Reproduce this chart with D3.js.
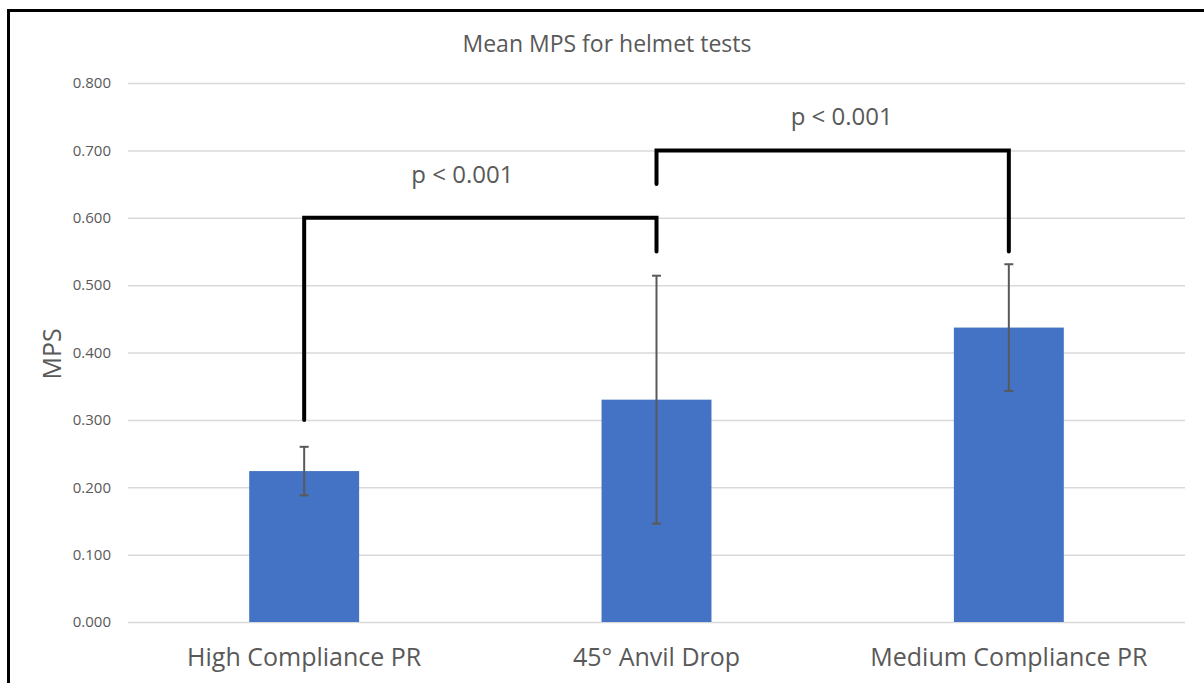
<!DOCTYPE html>
<html>
<head>
<meta charset="utf-8">
<script src="https://cdn.jsdelivr.net/npm/d3@7"></script>
<style>
  html, body { margin: 0; padding: 0; background: #fff; }
  svg { display: block; }
  svg text { font-family: "Open Sans", "Noto Sans", sans-serif; }
  .tick text { fill: #595959; }
</style>
</head>
<body>
<svg id="chart" width="1204" height="683"></svg>
<script>
// Mean MPS per test condition, with error bar half-widths
const categories = ['High Compliance PR', '45\u00b0 Anvil Drop', 'Medium Compliance PR'];
const meanMps = [0.224, 0.330, 0.437];
const errMps = [0.036, 0.184, 0.094];
const yTicks = [0, 0.1, 0.2, 0.3, 0.4, 0.5, 0.6, 0.7, 0.8];

// Significance brackets: from category, to category, leg ends and top
const bracketFrom = [0, 1];
const bracketTo = [1, 2];
const bracketLeftEnd = [0.30, 0.65];
const bracketRightEnd = [0.55, 0.55];
const bracketTop = [0.60, 0.70];
const bracketLabels = ['p < 0.001', 'p < 0.001'];

const svg = d3.select('#chart');
const grey = '#595959';

const x = d3.scaleBand()
  .domain(categories)
  .range([128, 1185])
  .paddingInner(0.688)
  .paddingOuter(0.344);

const y = d3.scaleLinear().domain([0, 0.8]).range([622, 83]);

// outer frame
svg.append('rect')
  .attr('x', 8.5).attr('y', 10.5)
  .attr('width', 1200).attr('height', 700)
  .attr('fill', 'none')
  .attr('stroke', '#000')
  .attr('stroke-width', 3);

svg.append('text')
  .attr('x', 607).attr('y', 52)
  .attr('text-anchor', 'middle')
  .attr('fill', grey)
  .style('font-size', '23px')
  .text('Mean MPS for helmet tests');

// y axis with gridlines
const yAxis = svg.append('g')
  .attr('transform', 'translate(128,0)')
  .call(d3.axisLeft(y).tickValues(yTicks).tickFormat(d3.format('.3f'))
    .tickSize(-1057).tickPadding(17));
yAxis.attr('font-family', null);
yAxis.select('.domain').remove();
yAxis.selectAll('.tick line').attr('stroke', '#d9d9d9').attr('stroke-width', 1.5);
yAxis.selectAll('.tick text').style('font-size', '15px');

svg.append('text')
  .attr('transform', 'translate(61,354) rotate(-90)')
  .attr('text-anchor', 'middle')
  .attr('fill', grey)
  .style('font-size', '25px')
  .text('MPS');

// x axis labels
const xAxis = svg.append('g')
  .attr('transform', 'translate(0,622)')
  .call(d3.axisBottom(x).tickSize(0).tickPadding(26));
xAxis.attr('font-family', null);
xAxis.select('.domain').remove();
xAxis.selectAll('.tick text').style('font-size', '25px');

// bars
svg.append('g').selectAll('rect')
  .data(categories)
  .join('rect')
  .attr('x', d => x(d))
  .attr('width', x.bandwidth())
  .attr('y', (d, i) => y(meanMps[i]))
  .attr('height', (d, i) => y(0) - y(meanMps[i]))
  .attr('fill', '#4472C4');

// error bars
const cx = i => x(categories[i]) + x.bandwidth() / 2;
const err = svg.append('g').attr('stroke', grey).attr('stroke-width', 2);
categories.forEach((c, i) => {
  const hi = y(meanMps[i] + errMps[i]);
  const lo = y(meanMps[i] - errMps[i]);
  err.append('line').attr('x1', cx(i)).attr('x2', cx(i)).attr('y1', hi).attr('y2', lo);
  err.append('line').attr('x1', cx(i) - 4.5).attr('x2', cx(i) + 4.5).attr('y1', hi).attr('y2', hi);
  err.append('line').attr('x1', cx(i) - 4.5).attr('x2', cx(i) + 4.5).attr('y1', lo).attr('y2', lo);
});

// significance brackets; labels sit a little off the bracket middle
const labelDx = [-18, 9];
const labelDy = [-35, -25];
const bg = svg.append('g');
bracketFrom.forEach((f, i) => {
  const x1 = cx(f), x2 = cx(bracketTo[i]);
  bg.append('path')
    .attr('d', d3.line()([
      [x1, y(bracketLeftEnd[i])],
      [x1, y(bracketTop[i])],
      [x2, y(bracketTop[i])],
      [x2, y(bracketRightEnd[i])]
    ]))
    .attr('fill', 'none')
    .attr('stroke', '#000')
    .attr('stroke-width', 4)
    .attr('stroke-linecap', 'round');
  bg.append('text')
    .attr('x', (x1 + x2) / 2 + labelDx[i])
    .attr('y', y(bracketTop[i]) + labelDy[i])
    .attr('text-anchor', 'middle')
    .attr('fill', grey)
    .style('font-size', '24px')
    .text(bracketLabels[i]);
});
</script>
</body>
</html>
